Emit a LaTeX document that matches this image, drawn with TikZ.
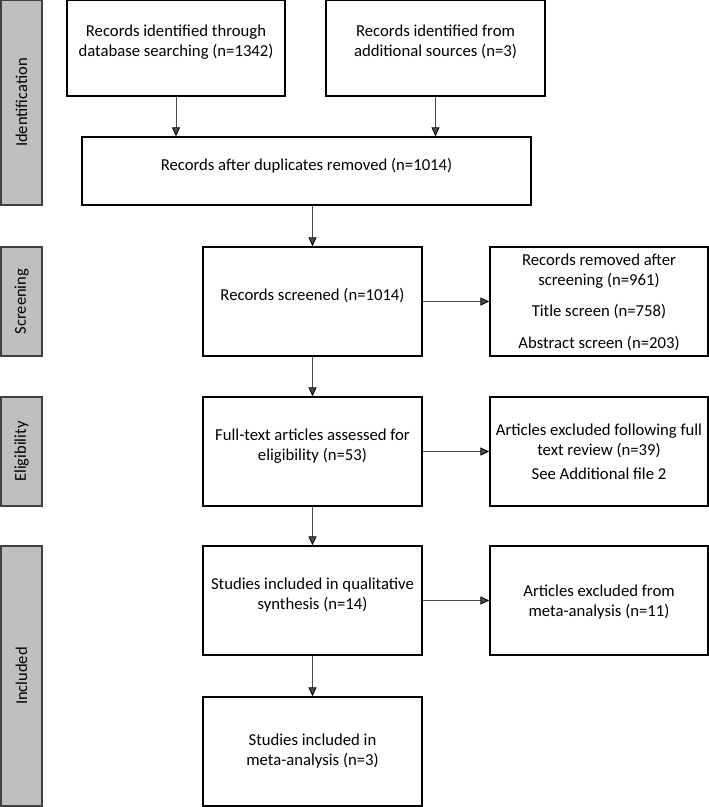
\documentclass[tikz,border=0pt]{standalone}
\usepackage{fontspec}
\setmainfont{Carlito}
\usetikzlibrary{arrows.meta}

\begin{document}
\begin{tikzpicture}[x=1pt,y=1pt,
	box/.style={draw,line width=1.4pt,align=center,inner sep=0pt,minimum width=219pt,minimum height=109pt,text depth=14pt,font=\fontsize{16.7}{20}\selectfont},
	phase/.style={draw=black!75,fill=black!25,line width=1.6pt,rotate=90,minimum height=41pt,inner sep=0pt,font=\fontsize{16.5}{20}\selectfont},
	arr/.style={-{Triangle[length=9pt,width=8pt,black]},color=black!70,line width=0.9pt}]
\useasboundingbox (0,0) rectangle (709,-807);
% phases
\node[phase,minimum width=205pt] (pid) at (21.5,-102.5) {Identification};
\node[phase,minimum width=109pt] (psc) at (21.5,-301.5) {Screening};
\node[phase,minimum width=109pt] (pel) at (21.5,-451.5) {Eligibility};
\node[phase,minimum width=260pt] (pin) at (21.5,-676) {Included};
% boxes
\node[box,minimum width=218pt,minimum height=96pt] (db) at (176,-48) {Records identified through\\database searching (n=1342)};
\node[box,minimum height=96pt] (add) at (435.5,-48) {Records identified from\\additional sources (n=3)};
\node[box,minimum width=449pt,minimum height=68pt] (dup) at (306.5,-171) {Records after duplicates removed (n=1014)};
\node[box] (scr) at (312.5,-301.5) {Records screened (n=1014)};
\node[box,minimum width=218pt,text depth=-5pt] (rem) at (599,-301.5) {Records removed after\\screening (n=961)\\[11pt]Title screen (n=758)\\[12pt]Abstract screen (n=203)};
\node[box] (full) at (312.5,-451.5) {Full-text articles assessed for\\eligibility (n=53)};
\node[box,minimum width=218pt,text depth=-8pt] (exf) at (599,-451.5) {Articles excluded following full\\text review (n=39)\\[4pt]See Additional file 2};
\node[box] (qual) at (312.5,-600.5) {Studies included in qualitative\\synthesis (n=14)};
\node[box,minimum width=218pt,text depth=-4pt] (exm) at (599,-600.5) {Articles excluded from\\meta-analysis (n=11)};
\node[box,text depth=4pt] (meta) at (312.5,-751.5) {Studies included in\\meta-analysis (n=3)};
% arrows
\path[arr]
(db.south) edge (db.south |- dup.north)
(add.south) edge (add.south |- dup.north)
(scr.north |- dup.south) edge (scr.north)
(scr) edge (rem)
(scr) edge (full)
(full) edge (exf)
(full) edge (qual)
(qual) edge (exm)
(qual) edge (meta);
\end{tikzpicture}
\end{document}
